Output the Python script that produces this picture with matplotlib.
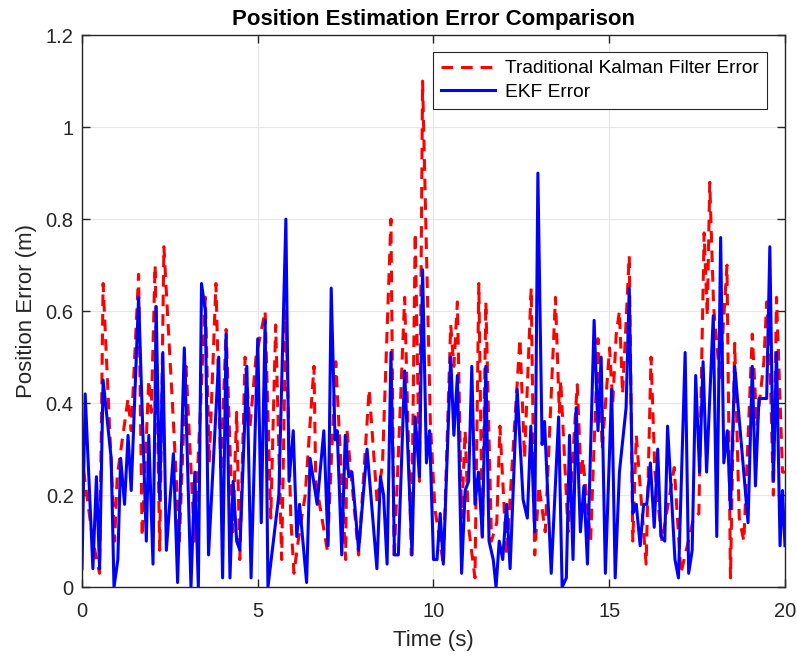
import matplotlib
matplotlib.use("Agg")
import matplotlib.pyplot as plt
import numpy as np

plt.rcParams['font.family'] = ['Liberation Sans', 'DejaVu Sans']

# EKF error (vertices)
ekf_t = [0.0, 0.09, 0.31, 0.41, 0.50, 0.60, 0.83, 0.91, 1.02, 1.10, 1.21, 1.31, 1.40, 1.61, 1.83, 1.90,
         2.02, 2.11, 2.21, 2.30, 2.40, 2.60, 2.72, 2.91, 3.10, 3.21, 3.31, 3.40, 3.51, 3.60, 3.89, 4.00,
         4.10, 4.21, 4.30, 4.40, 4.49, 4.69, 4.81, 5.00, 5.10, 5.21, 5.29, 5.60, 5.80, 5.89, 6.01, 6.11,
         6.19, 6.39, 6.49, 6.69, 6.88, 7.00, 7.09, 7.20, 7.26, 7.39, 7.49, 7.59, 7.68, 7.87, 8.11, 8.39,
         8.49, 8.58, 8.68, 8.79, 8.89, 9.00, 9.18, 9.39, 9.48, 9.60, 9.69, 9.80, 9.89, 10.00, 10.10, 10.19,
         10.28, 10.49, 10.58, 10.68, 10.80, 10.90, 11.00, 11.09, 11.18, 11.28, 11.39, 11.49, 11.58, 11.70,
         11.78, 11.87, 11.97, 12.08, 12.18, 12.38, 12.55, 12.67, 12.77, 12.88, 12.97, 13.09, 13.16, 13.35,
         13.56, 13.66, 13.78, 13.87, 13.97, 14.06, 14.18, 14.28, 14.38, 14.57, 14.68, 14.77, 14.89, 15.07,
         15.17, 15.29, 15.48, 15.57, 15.67, 15.77, 15.88, 15.98, 16.07, 16.17, 16.28, 16.38, 16.47, 16.58,
         16.66, 16.87, 16.97, 17.16, 17.26, 17.36, 17.46, 17.57, 17.67, 17.77, 17.96, 18.06, 18.17, 18.26,
         18.36, 18.45, 18.57, 18.95, 19.07, 19.16, 19.26, 19.48, 19.57, 19.67, 19.76, 19.86, 19.93, 20.0]
ekf_err = [0.04, 0.42, 0.04, 0.24, 0.04, 0.45, 0.28, 0.00, 0.06, 0.28, 0.18, 0.33, 0.21, 0.63, 0.10, 0.33,
           0.05, 0.61, 0.19, 0.51, 0.08, 0.29, 0.01, 0.52, 0.00, 0.25, 0.00, 0.66, 0.60, 0.07, 0.50, 0.02,
           0.55, 0.02, 0.23, 0.10, 0.08, 0.48, 0.02, 0.54, 0.14, 0.58, 0.00, 0.20, 0.80, 0.23, 0.34, 0.11,
           0.18, 0.01, 0.28, 0.18, 0.34, 0.09, 0.65, 0.32, 0.34, 0.07, 0.33, 0.24, 0.25, 0.08, 0.30, 0.04,
           0.24, 0.20, 0.05, 0.51, 0.07, 0.07, 0.47, 0.07, 0.37, 0.24, 0.69, 0.27, 0.34, 0.06, 0.06, 0.16,
           0.05, 0.50, 0.33, 0.46, 0.03, 0.21, 0.23, 0.48, 0.18, 0.25, 0.11, 0.48, 0.10, 0.06,
           0.00, 0.10, 0.06, 0.18, 0.04, 0.43, 0.19, 0.15, 0.35, 0.12, 0.90, 0.31, 0.36, 0.03,
           0.37, 0.00, 0.02, 0.33, 0.06, 0.39, 0.12, 0.22, 0.05, 0.58, 0.34, 0.50, 0.03, 0.43,
           0.02, 0.25, 0.39, 0.65, 0.16, 0.18, 0.09, 0.18, 0.18, 0.27, 0.13, 0.30, 0.11, 0.10,
           0.35, 0.06, 0.02, 0.51, 0.03, 0.08, 0.46, 0.25, 0.49, 0.25, 0.59, 0.11, 0.76, 0.27,
           0.34, 0.17, 0.48, 0.14, 0.48, 0.22, 0.41, 0.41, 0.74, 0.23, 0.51, 0.09, 0.21, 0.09]

# Traditional Kalman filter error
kf_t = [0.0, 0.05, 0.31, 0.50, 0.60, 0.93, 1.00, 1.31, 1.40, 1.61, 1.71, 1.90, 1.97, 2.08, 2.21, 2.33,
        2.60, 2.77, 2.96, 3.20, 3.51, 3.62, 3.81, 3.95, 4.10, 4.29, 4.40, 4.49, 4.64, 4.78, 4.95, 5.21,
        5.37, 5.51, 5.68, 5.80, 5.94, 6.03, 6.15, 6.35, 6.60, 6.65, 6.98, 7.22, 7.50, 7.54, 7.87, 8.17,
        8.40, 8.55, 8.79, 8.88, 9.18, 9.37, 9.48, 9.60, 9.69, 9.91, 10.04, 10.28, 10.49, 10.58, 10.68, 10.80,
        10.90, 11.00, 11.18, 11.29, 11.39, 11.49, 11.65, 11.80, 11.89, 12.08, 12.46, 12.59, 12.78, 12.88,
        13.00, 13.18, 13.47, 13.58, 13.62, 13.83, 14.09, 14.20, 14.25, 14.47, 14.68, 14.80, 15.01, 15.10,
        15.20, 15.29, 15.38, 15.57, 15.67, 15.77, 16.05, 16.19, 16.30, 16.50, 16.85, 17.04, 17.40, 17.55,
        17.70, 17.79, 17.86, 17.97, 18.15, 18.35, 18.45, 18.57, 18.70, 18.83, 19.07, 19.20, 19.40, 19.48,
        19.58, 19.67, 19.76, 19.93, 20.0]
kf_err = [0.25, 0.25, 0.10, 0.03, 0.66, 0.10, 0.24, 0.41, 0.34, 0.68, 0.11, 0.45, 0.38, 0.70, 0.08, 0.74,
          0.36, 0.10, 0.48, 0.10, 0.63, 0.27, 0.66, 0.25, 0.56, 0.12, 0.38, 0.06, 0.50, 0.35, 0.50, 0.60,
          0.15, 0.57, 0.06, 0.60, 0.15, 0.03, 0.10, 0.20, 0.48, 0.23, 0.08, 0.49, 0.06, 0.34, 0.07, 0.43,
          0.18, 0.27, 0.80, 0.06, 0.63, 0.07, 0.77, 0.23, 1.10, 0.36, 0.17, 0.05, 0.57, 0.48, 0.62, 0.15,
          0.34, 0.13, 0.02, 0.66, 0.10, 0.62, 0.10, 0.14, 0.35, 0.07, 0.54, 0.28, 0.65, 0.07,
          0.22, 0.12, 0.63, 0.38, 0.45, 0.12, 0.44, 0.24, 0.28, 0.10, 0.54, 0.30, 0.52, 0.40,
          0.55, 0.60, 0.42, 0.72, 0.10, 0.33, 0.05, 0.50, 0.25, 0.10, 0.26, 0.03, 0.15, 0.16,
          0.77, 0.59, 0.88, 0.61, 0.45, 0.70, 0.02, 0.53, 0.15, 0.10, 0.55, 0.35, 0.49, 0.62,
          0.47, 0.20, 0.63, 0.25, 0.25]

fig = plt.figure(figsize=(7.97, 6.56), dpi=100)
ax = fig.add_axes([0.1029, 0.105, 0.882, 0.8415])

ax.plot(kf_t, kf_err, color='#ff0000', linestyle=(0, (3.8, 2.6)), linewidth=2.2,
        label='Traditional Kalman Filter Error')
ax.plot(ekf_t, ekf_err, color='#0000ff', linewidth=2.2, label='EKF Error')

ax.set_xlim(0, 20)
ax.set_ylim(0, 1.2)
ax.set_xticks([0, 5, 10, 15, 20])
ax.set_yticks([0, 0.2, 0.4, 0.6, 0.8, 1.0, 1.2])
ax.set_yticklabels(['0', '0.2', '0.4', '0.6', '0.8', '1', '1.2'])
ax.grid(True, color='#e6e6e6', linewidth=0.8)
ax.set_axisbelow(True)
ax.tick_params(direction='in', top=True, right=True, labelsize=14.5, length=6, width=1.0,
               colors='#262626')
ax.tick_params(axis='x', pad=11)
ax.tick_params(axis='y', pad=6)
for s in ax.spines.values():
    s.set_color('#262626')
    s.set_linewidth(1.0)

ax.set_title('Position Estimation Error Comparison', fontsize=16, fontweight='bold', pad=7)
ax.set_xlabel('Time (s)', fontsize=16, color='#262626', labelpad=6)
ax.set_ylabel('Position Error (m)', fontsize=16, color='#262626', labelpad=6)

# MATLAB-style boxed legend, top right
leg = ax.legend(loc='upper right', bbox_to_anchor=(0.974, 0.969), fontsize=13.8, fancybox=False,
                framealpha=1, edgecolor='#262626', handlelength=2.8, handletextpad=0.55,
                borderpad=0.4, labelspacing=0.32, borderaxespad=0)
leg.get_frame().set_linewidth(0.8)

fig.savefig('out.png', dpi=100)
